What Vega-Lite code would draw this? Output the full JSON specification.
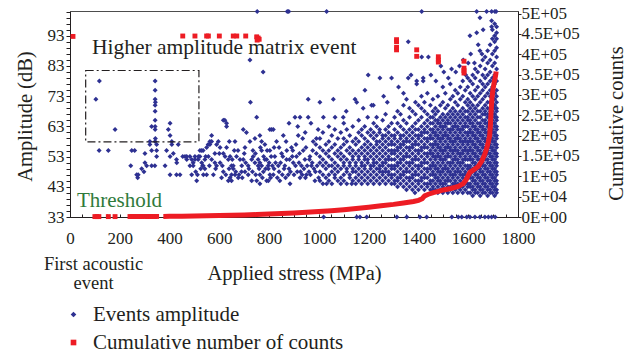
{"$schema":"https://vega.github.io/schema/vega-lite/v6.json","width":448,"height":206,"autosize":"none","padding":{"left":70,"top":11,"right":116,"bottom":138},
"config":{"font":"Liberation Serif","view":{"stroke":"#4d4d4d","strokeWidth":1},"axis":{"grid":false,"labelFont":"Liberation Serif","titleFont":"Liberation Serif","labelFontSize":17,"titleFontSize":20,"titleFontWeight":"normal","labelColor":"#231f20","titleColor":"#231f20","domainColor":"#231f20","tickColor":"#231f20","domainWidth":1,"tickWidth":1},"legend":{"labelFont":"Liberation Serif"}},
"layer":[
{"encoding":{"x":{"field":"s","type":"quantitative","scale":{"domain":[0,1800],"nice":false,"zero":false},"axis":{"orient":"bottom","title":"Applied stress (MPa)","format":"d","values":[0,50,100,150,200,250,300,350,400,450,500,550,600,650,700,750,800,850,900,950,1000,1050,1100,1150,1200,1250,1300,1350,1400,1450,1500,1550,1600,1650,1700,1750,1800],"labelExpr":"datum.value % 200 === 0 ? datum.label : ''","tickSize":-3,"labelPadding":16,"labelFlush":false,"labelOverlap":false,"titleY":56,"titleBaseline":"middle","titleFontSize":20.5}},
"y":{"field":"a","type":"quantitative","scale":{"domain":[33,101.2],"nice":false,"zero":false},"axis":{"title":"Amplitude (dB)","orient":"left","values":[33,35,37,39,41,43,45,47,49,51,53,55,57,59,61,63,65,67,69,71,73,75,77,79,81,83,85,87,89,91,93,95,97,99,101],"labelExpr":"(datum.value - 33) % 10 === 0 ? datum.label : ''","tickSize":4,"labelPadding":2,"labelOverlap":false,"titleX":-45,"titleY":105,"titleBaseline":"middle","titleAngle":-90,"titleFontSize":20.5}}},
"layer":[
{"data":{"name":"amp"},"mark":{"type":"point","filled":true,"opacity":1,"size":25},"encoding":{"color":{"datum":"Events amplitude","type":"nominal","scale":{"domain":["Events amplitude","Cumulative number of counts"],"range":["#2e3192","#ed1c24"]},"legend":{"title":null,"orient":"none","legendX":-7,"legendY":293,"direction":"vertical","labelFontSize":21,"labelColor":"#231f20","symbolSize":32,"labelOffset":9,"rowPadding":6,"padding":0,"labelLimit":500}},"shape":{"datum":"Events amplitude","type":"nominal","scale":{"domain":["Events amplitude","Cumulative number of counts"],"range":["diamond","square"]},"legend":{"title":null,"orient":"none","legendX":-7,"legendY":293,"direction":"vertical","labelFontSize":21,"labelColor":"#231f20","symbolSize":32,"labelOffset":9,"rowPadding":6,"padding":0,"labelLimit":500}}}},
{"data":{"values":[{"s":63,"s2":518,"a":57.9,"a2":81.5}]},"mark":{"type":"rect","filled":false,"color":"#231f20","strokeDash":[8,3,2,3],"strokeWidth":1.2},"encoding":{"x2":{"field":"s2"},"y2":{"field":"a2"}}},
{"data":{"values":[{"s":88,"a":89,"t":"Higher amplitude matrix event"}]},"mark":{"type":"text","align":"left","baseline":"middle","fontSize":21.5,"color":"#231f20","font":"Liberation Serif"},"encoding":{"text":{"field":"t"}}},
{"data":{"values":[{"s":28,"a":38.3,"t":"Threshold"}]},"mark":{"type":"text","align":"left","baseline":"middle","fontSize":21,"color":"#2f7a3b","font":"Liberation Serif"},"encoding":{"text":{"field":"t"}}}
]},
{"encoding":{"x":{"field":"s","type":"quantitative","scale":{"domain":[0,1800],"nice":false,"zero":false},"axis":{"orient":"bottom","title":["First acoustic","event"],"domain":false,"ticks":false,"labels":false,"titleX":23,"titleY":46,"titleAlign":"center","titleAnchor":"middle","titleFontSize":18.5,"titleBaseline":"middle","titleLineHeight":19}},
"y":{"field":"c","type":"quantitative","scale":{"domain":[0,506500],"nice":false,"zero":false},"axis":{"orient":"right","title":"Cumulative counts","values":[0,50000,100000,150000,200000,250000,300000,350000,400000,450000,500000],"labelExpr":"replace(format(datum.value,'.2~e'),'e+','E+0')","tickSize":3,"labelPadding":0,"labelOverlap":false,"titleAngle":-90,"titleX":98,"titleY":112,"titleBaseline":"middle","titleFontSize":20.5}}},
"layer":[
{"data":{"name":"cum"},"transform":[{"filter":"datum.g === 'f'"}],"mark":{"type":"line","color":"#ed1c24","strokeWidth":5},"encoding":{}},
{"data":{"name":"cum"},"transform":[{"filter":"datum.g !== 'f'"}],"mark":{"type":"point","filled":true,"opacity":1,"size":24},"encoding":{"color":{"datum":"Cumulative number of counts","type":"nominal","scale":{"domain":["Events amplitude","Cumulative number of counts"],"range":["#2e3192","#ed1c24"]},"legend":{"title":null,"orient":"none","legendX":-7,"legendY":293,"direction":"vertical","labelFontSize":21,"labelColor":"#231f20","symbolSize":32,"labelOffset":9,"rowPadding":6,"padding":0,"labelLimit":500}},"shape":{"datum":"Cumulative number of counts","type":"nominal","scale":{"domain":["Events amplitude","Cumulative number of counts"],"range":["diamond","square"]},"legend":{"title":null,"orient":"none","legendX":-7,"legendY":293,"direction":"vertical","labelFontSize":21,"labelColor":"#231f20","symbolSize":32,"labelOffset":9,"rowPadding":6,"padding":0,"labelLimit":500}}}}
]}
],
"resolve":{"scale":{"y":"independent"},"axis":{"x":"independent"}},
"datasets":{
"cum":[{"s":100,"c":1000,"g":"l"},{"s":108,"c":1000,"g":"l"},{"s":116,"c":1000,"g":"l"},{"s":154,"c":1000,"g":"l"},{"s":181,"c":1000,"g":"l"},{"s":241,"c":1200,"g":"l"},{"s":249,"c":1200,"g":"l"},{"s":257,"c":1200,"g":"l"},{"s":265,"c":1200,"g":"l"},{"s":273,"c":1300,"g":"l"},{"s":281,"c":1300,"g":"l"},{"s":288,"c":1300,"g":"l"},{"s":301,"c":1300,"g":"l"},{"s":309,"c":1300,"g":"l"},{"s":317,"c":1300,"g":"l"},{"s":325,"c":1400,"g":"l"},{"s":333,"c":1400,"g":"l"},{"s":341,"c":1400,"g":"l"},{"s":348,"c":1400,"g":"l"},
{"s":375,"c":1500,"g":"f"},{"s":400,"c":1600,"g":"f"},{"s":450,"c":2000,"g":"f"},{"s":500,"c":2500,"g":"f"},{"s":550,"c":3000,"g":"f"},{"s":600,"c":3500,"g":"f"},{"s":650,"c":4200,"g":"f"},{"s":700,"c":5000,"g":"f"},{"s":750,"c":6000,"g":"f"},{"s":800,"c":7500,"g":"f"},{"s":850,"c":8500,"g":"f"},{"s":900,"c":10000,"g":"f"},{"s":950,"c":11500,"g":"f"},{"s":1000,"c":13500,"g":"f"},{"s":1050,"c":15500,"g":"f"},{"s":1100,"c":18000,"g":"f"},{"s":1150,"c":21000,"g":"f"},{"s":1200,"c":24000,"g":"f"},{"s":1250,"c":27500,"g":"f"},{"s":1300,"c":31000,"g":"f"},{"s":1340,"c":34500,"g":"f"},{"s":1380,"c":38000,"g":"f"},{"s":1400,"c":41000,"g":"f"},{"s":1415,"c":45000,"g":"f"},{"s":1425,"c":52000,"g":"f"},{"s":1440,"c":56000,"g":"f"},{"s":1460,"c":60000,"g":"f"},{"s":1480,"c":63000,"g":"f"},{"s":1500,"c":66500,"g":"f"},{"s":1530,"c":70000,"g":"f"},{"s":1560,"c":75000,"g":"f"},{"s":1580,"c":82000,"g":"f"},{"s":1592,"c":92000,"g":"f"},{"s":1600,"c":102000,"g":"f"},{"s":1607,"c":110000,"g":"f"},{"s":1620,"c":115000,"g":"f"},{"s":1640,"c":124000,"g":"f"},{"s":1655,"c":138000,"g":"f"},{"s":1667,"c":155000,"g":"f"},{"s":1675,"c":170000,"g":"f"},{"s":1681,"c":185000,"g":"f"},{"s":1686,"c":200000,"g":"f"},{"s":1689,"c":225000,"g":"f"},{"s":1692,"c":260000,"g":"f"},{"s":1695,"c":290000,"g":"f"},{"s":1699,"c":312000,"g":"f"},{"s":1704,"c":330000,"g":"f"},{"s":1708,"c":342000,"g":"f"},{"s":1711,"c":352000,"g":"f"},{"s":1712,"c":358000,"g":"f"},
{"s":12,"c":444000,"g":"o"},{"s":453,"c":445000,"g":"o"},{"s":502,"c":445000,"g":"o"},{"s":549,"c":445000,"g":"o"},{"s":556,"c":445000,"g":"o"},{"s":600,"c":445000,"g":"o"},{"s":656,"c":445000,"g":"o"},{"s":670,"c":445000,"g":"o"},{"s":706,"c":445000,"g":"o"},{"s":750,"c":443000,"g":"o"},{"s":756,"c":440000,"g":"o"},{"s":760,"c":437000,"g":"o"},{"s":752,"c":435000,"g":"o"},{"s":1312,"c":436000,"g":"o"},{"s":1312,"c":431000,"g":"o"},{"s":1312,"c":417000,"g":"o"},{"s":1312,"c":411000,"g":"o"},{"s":1393,"c":411000,"g":"o"},{"s":1393,"c":395000,"g":"o"},{"s":1480,"c":394000,"g":"o"},{"s":1480,"c":386000,"g":"o"},{"s":1480,"c":381000,"g":"o"},{"s":1583,"c":383000,"g":"o"},{"s":1583,"c":366000,"g":"o"},{"s":1583,"c":360000,"g":"o"},{"s":1583,"c":354000,"g":"o"}],
"amp":[
{"s":104,"a":72},{"s":118,"a":78},{"s":117,"a":55},{"s":154,"a":55},{"s":181,"a":62},{"s":244,"a":50},{"s":248,"a":55},{"s":260,"a":55},{"s":268,"a":47},{"s":272,"a":46},{"s":274,"a":47},{"s":288,"a":49},{"s":297,"a":48},{"s":301,"a":51},{"s":301,"a":54},{"s":308,"a":50},{"s":321,"a":58},{"s":321,"a":57},{"s":328,"a":63},{"s":328,"a":55},{"s":328,"a":50},{"s":342,"a":78},{"s":342,"a":75},{"s":342,"a":72},{"s":343,"a":71},{"s":342,"a":70},{"s":342,"a":68},{"s":342,"a":65},{"s":342,"a":63},{"s":342,"a":62},{"s":343,"a":59},{"s":342,"a":58},{"s":348,"a":57},{"s":348,"a":55},{"s":348,"a":53},{"s":341,"a":50},{"s":382,"a":50},{"s":388,"a":55},{"s":395,"a":62},{"s":402,"a":64},{"s":402,"a":60},{"s":402,"a":53},{"s":402,"a":47},{"s":409,"a":58},{"s":409,"a":57},{"s":415,"a":54},{"s":428,"a":47},{"s":428,"a":52},{"s":429,"a":51},{"s":435,"a":57},{"s":442,"a":47},{"s":453,"a":53},
{"s":462,"a":53},{"s":469,"a":52},{"s":469,"a":53},{"s":482,"a":53},{"s":482,"a":50},{"s":489,"a":47},{"s":489,"a":52},{"s":495,"a":50},{"s":495,"a":51},{"s":502,"a":53},{"s":502,"a":52},{"s":505,"a":48},{"s":509,"a":45},{"s":512,"a":47},{"s":515,"a":52},{"s":516,"a":53},{"s":522,"a":53},{"s":522,"a":55},{"s":525,"a":49},{"s":529,"a":55},{"s":529,"a":51},{"s":533,"a":50},{"s":535,"a":55},{"s":535,"a":50},{"s":536,"a":47},{"s":542,"a":52},{"s":542,"a":49},{"s":545,"a":53},{"s":549,"a":56},{"s":549,"a":47},{"s":555,"a":57},{"s":556,"a":53},{"s":560,"a":50},{"s":562,"a":57},{"s":562,"a":58},{"s":569,"a":60},{"s":569,"a":58},{"s":569,"a":52},{"s":576,"a":47},{"s":582,"a":54},{"s":582,"a":51},{"s":585,"a":49},{"s":589,"a":57},{"s":589,"a":50},{"s":596,"a":58},{"s":600,"a":54},{"s":603,"a":56},{"s":603,"a":51},{"s":609,"a":46},{"s":612,"a":50},{"s":616,"a":54},{"s":616,"a":48},{"s":616,"a":65},{"s":622,"a":65},{"s":623,"a":53},{"s":626,"a":47},{"s":629,"a":64},{"s":629,"a":56},{"s":629,"a":63},{"s":636,"a":52},{"s":636,"a":45},{"s":639,"a":49},{"s":640,"a":58},{"s":643,"a":53},{"s":643,"a":46},{"s":649,"a":47},{"s":649,"a":50},{"s":649,"a":45},{"s":652,"a":52},{"s":656,"a":50},{"s":656,"a":49},{"s":660,"a":55},{"s":663,"a":58},{"s":663,"a":47},{"s":666,"a":48},{"s":669,"a":53},{"s":675,"a":55},{"s":676,"a":46},{"s":679,"a":47},{"s":683,"a":52},{"s":689,"a":48},{"s":690,"a":50},{"s":692,"a":46},{"s":696,"a":62},{"s":696,"a":52},{"s":700,"a":54},{"s":703,"a":56},{"s":703,"a":48},{"s":706,"a":51},{"s":709,"a":61},{"s":716,"a":50},{"s":716,"a":47},{"s":719,"a":49},{"s":723,"a":85},{"s":723,"a":58},{"s":725,"a":71},{"s":730,"a":45},{"s":730,"a":52},{"s":733,"a":48},{"s":735,"a":55},{"s":736,"a":53},{"s":743,"a":59},{"s":743,"a":51},{"s":745,"a":54},{"s":746,"a":47},{"s":750,"a":66},{"s":750,"a":45},{"s":752,"a":101},{"s":756,"a":50},{"s":756,"a":52},{"s":760,"a":49},{"s":763,"a":47},{"s":763,"a":51},{"s":763,"a":60},{"s":763,"a":44},{"s":765,"a":56},{"s":770,"a":55},{"s":770,"a":50},{"s":770,"a":58},{"s":773,"a":46},{"s":776,"a":81},{"s":777,"a":48},{"s":778,"a":53},{"s":783,"a":52},{"s":783,"a":57},{"s":786,"a":49},{"s":790,"a":45},{"s":790,"a":52},{"s":792,"a":55},{"s":796,"a":50},{"s":797,"a":49},{"s":797,"a":45},{"s":800,"a":51},{"s":803,"a":55},{"s":803,"a":47},{"s":803,"a":62},{"s":806,"a":46},{"s":808,"a":53},{"s":810,"a":62},{"s":813,"a":50},{"s":817,"a":47},{"s":817,"a":62},{"s":820,"a":49},{"s":820,"a":56},{"s":823,"a":53},{"s":826,"a":51},{"s":830,"a":58},{"s":833,"a":46},{"s":837,"a":50},{"s":840,"a":48},{"s":840,"a":56},{"s":843,"a":45},{"s":846,"a":51},{"s":850,"a":54},{"s":853,"a":47},{"s":855,"a":53},{"s":857,"a":60},{"s":860,"a":49},{"s":863,"a":50},{"s":866,"a":46},{"s":868,"a":58},{"s":870,"a":52},{"s":871,"a":55},{"s":873,"a":101},{"s":877,"a":47},{"s":879,"a":101},{"s":880,"a":49},{"s":880,"a":64},{"s":882,"a":52},{"s":884,"a":44},{"s":886,"a":48},{"s":890,"a":56},{"s":893,"a":53},{"s":895,"a":55},{"s":897,"a":51},{"s":900,"a":47},{"s":904,"a":66},{"s":906,"a":50},{"s":908,"a":57},{"s":910,"a":53},{"s":913,"a":48},{"s":915,"a":63},{"s":917,"a":60},{"s":920,"a":51},{"s":922,"a":54},{"s":924,"a":46},{"s":924,"a":66},{"s":926,"a":48},{"s":930,"a":50},{"s":933,"a":47},{"s":935,"a":59},{"s":937,"a":55},{"s":940,"a":49},{"s":944,"a":52},{"s":945,"a":61},{"s":946,"a":46},{"s":948,"a":56},{"s":950,"a":47},{"s":953,"a":50},{"s":957,"a":66},{"s":957,"a":72},{"s":960,"a":48},{"s":962,"a":52},{"s":964,"a":53},{"s":966,"a":47},{"s":968,"a":64},{"s":970,"a":50},{"s":973,"a":51},{"s":975,"a":55},{"s":977,"a":58},{"s":980,"a":49},{"s":984,"a":45},{"s":986,"a":48},{"s":988,"a":57},{"s":990,"a":54},{"s":990,"a":59},{"s":993,"a":50},{"s":997,"a":62},{"s":999,"a":46},
{"s":1004,"a":45},{"s":1004,"a":48},{"s":1004,"a":51},{"s":1004,"a":53},{"s":1004,"a":56},{"s":1004,"a":59},{"s":1016,"a":44},{"s":1016,"a":47},{"s":1016,"a":50},{"s":1016,"a":52},{"s":1016,"a":55},{"s":1016,"a":61},{"s":1028,"a":46},{"s":1028,"a":49},{"s":1028,"a":51},{"s":1028,"a":54},{"s":1028,"a":57},{"s":1040,"a":45},{"s":1040,"a":47},{"s":1040,"a":50},{"s":1040,"a":53},{"s":1040,"a":55},{"s":1040,"a":58},{"s":1040,"a":63},{"s":1052,"a":44},{"s":1052,"a":48},{"s":1052,"a":50},{"s":1052,"a":52},{"s":1052,"a":56},{"s":1052,"a":60},{"s":1064,"a":46},{"s":1064,"a":47},{"s":1064,"a":49},{"s":1064,"a":51},{"s":1064,"a":54},{"s":1064,"a":57},{"s":1064,"a":62},{"s":1076,"a":45},{"s":1076,"a":48},{"s":1076,"a":50},{"s":1076,"a":53},{"s":1076,"a":55},{"s":1076,"a":59},{"s":1088,"a":44},{"s":1088,"a":46},{"s":1088,"a":49},{"s":1088,"a":52},{"s":1088,"a":54},{"s":1088,"a":56},{"s":1088,"a":61},{"s":1100,"a":45},{"s":1100,"a":47},{"s":1100,"a":50},{"s":1100,"a":51},{"s":1100,"a":53},{"s":1100,"a":57},{"s":1100,"a":59},{"s":1100,"a":64},{"s":1112,"a":44},{"s":1112,"a":48},{"s":1112,"a":49},{"s":1112,"a":52},{"s":1112,"a":55},{"s":1112,"a":58},{"s":1112,"a":62},{"s":1124,"a":46},{"s":1124,"a":47},{"s":1124,"a":50},{"s":1124,"a":51},{"s":1124,"a":54},{"s":1124,"a":56},{"s":1124,"a":60},{"s":1136,"a":45},{"s":1136,"a":48},{"s":1136,"a":49},{"s":1136,"a":52},{"s":1136,"a":53},{"s":1136,"a":55},{"s":1136,"a":58},{"s":1136,"a":63},{"s":1148,"a":44},{"s":1148,"a":46},{"s":1148,"a":48},{"s":1148,"a":50},{"s":1148,"a":51},{"s":1148,"a":54},{"s":1148,"a":57},{"s":1148,"a":59},{"s":1160,"a":45},{"s":1160,"a":47},{"s":1160,"a":49},{"s":1160,"a":52},{"s":1160,"a":53},{"s":1160,"a":55},{"s":1160,"a":58},{"s":1160,"a":61},{"s":1160,"a":65},{"s":1172,"a":44},{"s":1172,"a":46},{"s":1172,"a":48},{"s":1172,"a":50},{"s":1172,"a":51},{"s":1172,"a":54},{"s":1172,"a":56},{"s":1172,"a":60},{"s":1172,"a":62},{"s":1184,"a":45},{"s":1184,"a":47},{"s":1184,"a":49},{"s":1184,"a":50},{"s":1184,"a":52},{"s":1184,"a":53},{"s":1184,"a":55},{"s":1184,"a":57},{"s":1184,"a":59},{"s":1184,"a":63},{"s":1196,"a":44},{"s":1196,"a":46},{"s":1196,"a":48},{"s":1196,"a":51},{"s":1196,"a":52},{"s":1196,"a":54},{"s":1196,"a":56},{"s":1196,"a":58},{"s":1196,"a":61},{"s":1196,"a":66},{"s":1208,"a":45},{"s":1208,"a":47},{"s":1208,"a":49},{"s":1208,"a":50},{"s":1208,"a":53},{"s":1208,"a":55},{"s":1208,"a":57},{"s":1208,"a":60},{"s":1208,"a":62},{"s":1220,"a":44},{"s":1220,"a":46},{"s":1220,"a":48},{"s":1220,"a":50},{"s":1220,"a":51},{"s":1220,"a":52},{"s":1220,"a":54},{"s":1220,"a":56},{"s":1220,"a":59},{"s":1220,"a":61},{"s":1220,"a":64},{"s":1232,"a":45},{"s":1232,"a":47},{"s":1232,"a":49},{"s":1232,"a":51},{"s":1232,"a":53},{"s":1232,"a":55},{"s":1232,"a":57},{"s":1232,"a":58},{"s":1232,"a":60},{"s":1232,"a":63},{"s":1244,"a":44},{"s":1244,"a":46},{"s":1244,"a":48},{"s":1244,"a":49},{"s":1244,"a":50},{"s":1244,"a":52},{"s":1244,"a":54},{"s":1244,"a":56},{"s":1244,"a":58},{"s":1244,"a":61},{"s":1244,"a":62},{"s":1256,"a":45},{"s":1256,"a":47},{"s":1256,"a":48},{"s":1256,"a":50},{"s":1256,"a":51},{"s":1256,"a":53},{"s":1256,"a":55},{"s":1256,"a":57},{"s":1256,"a":59},{"s":1256,"a":60},{"s":1256,"a":65},{"s":1268,"a":44},{"s":1268,"a":46},{"s":1268,"a":48},{"s":1268,"a":49},{"s":1268,"a":51},{"s":1268,"a":52},{"s":1268,"a":54},{"s":1268,"a":56},{"s":1268,"a":58},{"s":1268,"a":60},{"s":1268,"a":62},{"s":1268,"a":67},{"s":1280,"a":45},{"s":1280,"a":47},{"s":1280,"a":48},{"s":1280,"a":50},{"s":1280,"a":52},{"s":1280,"a":53},{"s":1280,"a":55},{"s":1280,"a":57},{"s":1280,"a":59},{"s":1280,"a":61},{"s":1280,"a":63},{"s":1292,"a":44},{"s":1292,"a":46},{"s":1292,"a":47},{"s":1292,"a":49},{"s":1292,"a":50},{"s":1292,"a":52},{"s":1292,"a":54},{"s":1292,"a":55},{"s":1292,"a":57},{"s":1292,"a":58},{"s":1292,"a":60},{"s":1292,"a":64},
{"s":1304,"a":44},{"s":1304,"a":45},{"s":1304,"a":47},{"s":1304,"a":49},{"s":1304,"a":50},{"s":1304,"a":52},{"s":1304,"a":54},{"s":1304,"a":55},{"s":1304,"a":57},{"s":1304,"a":59},{"s":1304,"a":60},{"s":1304,"a":62},{"s":1304,"a":66},{"s":1316,"a":43},{"s":1316,"a":45},{"s":1316,"a":46},{"s":1316,"a":48},{"s":1316,"a":50},{"s":1316,"a":51},{"s":1316,"a":53},{"s":1316,"a":55},{"s":1316,"a":56},{"s":1316,"a":58},{"s":1316,"a":61},{"s":1316,"a":64},{"s":1316,"a":68},{"s":1328,"a":44},{"s":1328,"a":46},{"s":1328,"a":47},{"s":1328,"a":49},{"s":1328,"a":51},{"s":1328,"a":52},{"s":1328,"a":54},{"s":1328,"a":56},{"s":1328,"a":57},{"s":1328,"a":59},{"s":1328,"a":60},{"s":1328,"a":63},{"s":1328,"a":67},{"s":1340,"a":43},{"s":1340,"a":45},{"s":1340,"a":47},{"s":1340,"a":48},{"s":1340,"a":50},{"s":1340,"a":52},{"s":1340,"a":53},{"s":1340,"a":55},{"s":1340,"a":57},{"s":1340,"a":58},{"s":1340,"a":60},{"s":1340,"a":62},{"s":1340,"a":65},{"s":1340,"a":70},{"s":1352,"a":42},{"s":1352,"a":44},{"s":1352,"a":46},{"s":1352,"a":48},{"s":1352,"a":49},{"s":1352,"a":51},{"s":1352,"a":53},{"s":1352,"a":54},{"s":1352,"a":56},{"s":1352,"a":58},{"s":1352,"a":59},{"s":1352,"a":61},{"s":1352,"a":64},{"s":1352,"a":72},{"s":1364,"a":43},{"s":1364,"a":45},{"s":1364,"a":46},{"s":1364,"a":48},{"s":1364,"a":50},{"s":1364,"a":51},{"s":1364,"a":53},{"s":1364,"a":55},{"s":1364,"a":56},{"s":1364,"a":58},{"s":1364,"a":60},{"s":1364,"a":62},{"s":1364,"a":66},{"s":1364,"a":69},{"s":1376,"a":42},{"s":1376,"a":44},{"s":1376,"a":46},{"s":1376,"a":47},{"s":1376,"a":49},{"s":1376,"a":51},{"s":1376,"a":52},{"s":1376,"a":54},{"s":1376,"a":56},{"s":1376,"a":57},{"s":1376,"a":59},{"s":1376,"a":61},{"s":1376,"a":63},{"s":1376,"a":68},{"s":1388,"a":43},{"s":1388,"a":45},{"s":1388,"a":47},{"s":1388,"a":48},{"s":1388,"a":50},{"s":1388,"a":52},{"s":1388,"a":53},{"s":1388,"a":55},{"s":1388,"a":57},{"s":1388,"a":58},{"s":1388,"a":60},{"s":1388,"a":62},{"s":1388,"a":64},{"s":1388,"a":67},{"s":1388,"a":71},{"s":1400,"a":42},{"s":1400,"a":44},{"s":1400,"a":45},{"s":1400,"a":47},{"s":1400,"a":49},{"s":1400,"a":50},{"s":1400,"a":52},{"s":1400,"a":54},{"s":1400,"a":55},{"s":1400,"a":57},{"s":1400,"a":59},{"s":1400,"a":60},{"s":1400,"a":62},{"s":1400,"a":65},{"s":1400,"a":70},{"s":1412,"a":43},{"s":1412,"a":45},{"s":1412,"a":46},{"s":1412,"a":48},{"s":1412,"a":50},{"s":1412,"a":51},{"s":1412,"a":53},{"s":1412,"a":55},{"s":1412,"a":56},{"s":1412,"a":58},{"s":1412,"a":60},{"s":1412,"a":61},{"s":1412,"a":63},{"s":1412,"a":66},{"s":1412,"a":69},{"s":1412,"a":73},{"s":1424,"a":42},{"s":1424,"a":44},{"s":1424,"a":46},{"s":1424,"a":47},{"s":1424,"a":49},{"s":1424,"a":51},{"s":1424,"a":52},{"s":1424,"a":54},{"s":1424,"a":56},{"s":1424,"a":57},{"s":1424,"a":59},{"s":1424,"a":61},{"s":1424,"a":62},{"s":1424,"a":64},{"s":1424,"a":68},{"s":1424,"a":71},{"s":1436,"a":43},{"s":1436,"a":44},{"s":1436,"a":46},{"s":1436,"a":48},{"s":1436,"a":49},{"s":1436,"a":51},{"s":1436,"a":53},{"s":1436,"a":54},{"s":1436,"a":56},{"s":1436,"a":58},{"s":1436,"a":59},{"s":1436,"a":61},{"s":1436,"a":63},{"s":1436,"a":65},{"s":1436,"a":67},{"s":1436,"a":74},{"s":1448,"a":42},{"s":1448,"a":44},{"s":1448,"a":45},{"s":1448,"a":47},{"s":1448,"a":49},{"s":1448,"a":50},{"s":1448,"a":52},{"s":1448,"a":54},{"s":1448,"a":55},{"s":1448,"a":57},{"s":1448,"a":59},{"s":1448,"a":60},{"s":1448,"a":62},{"s":1448,"a":64},{"s":1448,"a":66},{"s":1448,"a":70},
{"s":1458,"a":42},{"s":1458,"a":43},{"s":1458,"a":45},{"s":1458,"a":47},{"s":1458,"a":48},{"s":1458,"a":50},{"s":1458,"a":51},{"s":1458,"a":53},{"s":1458,"a":54},{"s":1458,"a":56},{"s":1458,"a":57},{"s":1458,"a":59},{"s":1458,"a":61},{"s":1458,"a":62},{"s":1458,"a":64},{"s":1458,"a":66},{"s":1458,"a":68},{"s":1458,"a":72},{"s":1468,"a":42},{"s":1468,"a":44},{"s":1468,"a":46},{"s":1468,"a":47},{"s":1468,"a":49},{"s":1468,"a":50},{"s":1468,"a":52},{"s":1468,"a":53},{"s":1468,"a":55},{"s":1468,"a":57},{"s":1468,"a":58},{"s":1468,"a":60},{"s":1468,"a":61},{"s":1468,"a":63},{"s":1468,"a":65},{"s":1468,"a":67},{"s":1468,"a":69},{"s":1478,"a":41},{"s":1478,"a":43},{"s":1478,"a":45},{"s":1478,"a":46},{"s":1478,"a":48},{"s":1478,"a":49},{"s":1478,"a":51},{"s":1478,"a":53},{"s":1478,"a":54},{"s":1478,"a":56},{"s":1478,"a":57},{"s":1478,"a":59},{"s":1478,"a":60},{"s":1478,"a":62},{"s":1478,"a":64},{"s":1478,"a":65},{"s":1478,"a":68},{"s":1478,"a":73},{"s":1488,"a":42},{"s":1488,"a":44},{"s":1488,"a":45},{"s":1488,"a":47},{"s":1488,"a":48},{"s":1488,"a":50},{"s":1488,"a":52},{"s":1488,"a":53},{"s":1488,"a":55},{"s":1488,"a":56},{"s":1488,"a":58},{"s":1488,"a":59},{"s":1488,"a":61},{"s":1488,"a":63},{"s":1488,"a":64},{"s":1488,"a":66},{"s":1488,"a":70},{"s":1498,"a":41},{"s":1498,"a":43},{"s":1498,"a":44},{"s":1498,"a":46},{"s":1498,"a":48},{"s":1498,"a":49},{"s":1498,"a":51},{"s":1498,"a":52},{"s":1498,"a":54},{"s":1498,"a":55},{"s":1498,"a":57},{"s":1498,"a":59},{"s":1498,"a":60},{"s":1498,"a":62},{"s":1498,"a":63},{"s":1498,"a":65},{"s":1498,"a":67},{"s":1498,"a":71},{"s":1498,"a":76},{"s":1508,"a":42},{"s":1508,"a":44},{"s":1508,"a":45},{"s":1508,"a":47},{"s":1508,"a":49},{"s":1508,"a":50},{"s":1508,"a":52},{"s":1508,"a":53},{"s":1508,"a":55},{"s":1508,"a":56},{"s":1508,"a":58},{"s":1508,"a":60},{"s":1508,"a":61},{"s":1508,"a":63},{"s":1508,"a":64},{"s":1508,"a":66},{"s":1508,"a":69},{"s":1508,"a":74},{"s":1518,"a":41},{"s":1518,"a":43},{"s":1518,"a":45},{"s":1518,"a":46},{"s":1518,"a":48},{"s":1518,"a":49},{"s":1518,"a":51},{"s":1518,"a":53},{"s":1518,"a":54},{"s":1518,"a":56},{"s":1518,"a":57},{"s":1518,"a":59},{"s":1518,"a":60},{"s":1518,"a":62},{"s":1518,"a":64},{"s":1518,"a":65},{"s":1518,"a":67},{"s":1518,"a":70},{"s":1528,"a":42},{"s":1528,"a":43},{"s":1528,"a":45},{"s":1528,"a":47},{"s":1528,"a":48},{"s":1528,"a":50},{"s":1528,"a":51},{"s":1528,"a":53},{"s":1528,"a":55},{"s":1528,"a":56},{"s":1528,"a":58},{"s":1528,"a":59},{"s":1528,"a":61},{"s":1528,"a":62},{"s":1528,"a":64},{"s":1528,"a":66},{"s":1528,"a":68},{"s":1528,"a":72},{"s":1528,"a":77},{"s":1538,"a":41},{"s":1538,"a":43},{"s":1538,"a":44},{"s":1538,"a":46},{"s":1538,"a":47},{"s":1538,"a":49},{"s":1538,"a":51},{"s":1538,"a":52},{"s":1538,"a":54},{"s":1538,"a":55},{"s":1538,"a":57},{"s":1538,"a":58},{"s":1538,"a":60},{"s":1538,"a":62},{"s":1538,"a":63},{"s":1538,"a":65},{"s":1538,"a":67},{"s":1538,"a":69},{"s":1538,"a":73},{"s":1548,"a":42},{"s":1548,"a":44},{"s":1548,"a":45},{"s":1548,"a":47},{"s":1548,"a":48},{"s":1548,"a":50},{"s":1548,"a":52},{"s":1548,"a":53},{"s":1548,"a":55},{"s":1548,"a":56},{"s":1548,"a":58},{"s":1548,"a":59},{"s":1548,"a":61},{"s":1548,"a":63},{"s":1548,"a":64},{"s":1548,"a":66},{"s":1548,"a":68},{"s":1548,"a":71},{"s":1548,"a":75},{"s":1558,"a":41},{"s":1558,"a":43},{"s":1558,"a":44},{"s":1558,"a":46},{"s":1558,"a":48},{"s":1558,"a":49},{"s":1558,"a":51},{"s":1558,"a":52},{"s":1558,"a":54},{"s":1558,"a":55},{"s":1558,"a":57},{"s":1558,"a":59},{"s":1558,"a":60},{"s":1558,"a":62},{"s":1558,"a":63},{"s":1558,"a":65},{"s":1558,"a":67},{"s":1558,"a":70},{"s":1558,"a":74},{"s":1568,"a":42},{"s":1568,"a":43},{"s":1568,"a":45},{"s":1568,"a":47},{"s":1568,"a":48},{"s":1568,"a":50},{"s":1568,"a":51},{"s":1568,"a":53},{"s":1568,"a":54},{"s":1568,"a":56},{"s":1568,"a":58},{"s":1568,"a":59},{"s":1568,"a":61},{"s":1568,"a":62},{"s":1568,"a":64},{"s":1568,"a":66},{"s":1568,"a":68},{"s":1568,"a":72},{"s":1568,"a":76},{"s":1578,"a":41},{"s":1578,"a":43},{"s":1578,"a":44},{"s":1578,"a":46},{"s":1578,"a":47},{"s":1578,"a":49},{"s":1578,"a":51},{"s":1578,"a":52},{"s":1578,"a":54},{"s":1578,"a":55},{"s":1578,"a":57},{"s":1578,"a":58},{"s":1578,"a":60},{"s":1578,"a":62},{"s":1578,"a":63},{"s":1578,"a":65},{"s":1578,"a":67},{"s":1578,"a":69},{"s":1578,"a":73},{"s":1578,"a":78},{"s":1588,"a":42},{"s":1588,"a":44},{"s":1588,"a":45},{"s":1588,"a":47},{"s":1588,"a":48},{"s":1588,"a":50},{"s":1588,"a":52},{"s":1588,"a":53},{"s":1588,"a":55},{"s":1588,"a":56},{"s":1588,"a":58},{"s":1588,"a":59},{"s":1588,"a":61},{"s":1588,"a":63},{"s":1588,"a":64},{"s":1588,"a":66},{"s":1588,"a":68},{"s":1588,"a":71},{"s":1588,"a":75},{"s":1598,"a":41},{"s":1598,"a":43},{"s":1598,"a":44},{"s":1598,"a":46},{"s":1598,"a":47},{"s":1598,"a":49},{"s":1598,"a":50},{"s":1598,"a":52},{"s":1598,"a":54},{"s":1598,"a":55},{"s":1598,"a":57},{"s":1598,"a":58},{"s":1598,"a":60},{"s":1598,"a":61},{"s":1598,"a":63},{"s":1598,"a":65},{"s":1598,"a":66},{"s":1598,"a":68},{"s":1598,"a":70},{"s":1598,"a":72},{"s":1598,"a":76},{"s":1598,"a":79},
{"s":1608,"a":41},{"s":1608,"a":43},{"s":1608,"a":44},{"s":1608,"a":46},{"s":1608,"a":47},{"s":1608,"a":49},{"s":1608,"a":50},{"s":1608,"a":52},{"s":1608,"a":53},{"s":1608,"a":55},{"s":1608,"a":56},{"s":1608,"a":58},{"s":1608,"a":59},{"s":1608,"a":61},{"s":1608,"a":62},{"s":1608,"a":64},{"s":1608,"a":65},{"s":1608,"a":67},{"s":1608,"a":69},{"s":1608,"a":71},{"s":1608,"a":74},{"s":1608,"a":78},{"s":1618,"a":40},{"s":1618,"a":42},{"s":1618,"a":43},{"s":1618,"a":45},{"s":1618,"a":46},{"s":1618,"a":48},{"s":1618,"a":49},{"s":1618,"a":51},{"s":1618,"a":52},{"s":1618,"a":54},{"s":1618,"a":55},{"s":1618,"a":57},{"s":1618,"a":58},{"s":1618,"a":60},{"s":1618,"a":61},{"s":1618,"a":63},{"s":1618,"a":64},{"s":1618,"a":66},{"s":1618,"a":68},{"s":1618,"a":70},{"s":1618,"a":73},{"s":1618,"a":77},{"s":1618,"a":80},{"s":1628,"a":41},{"s":1628,"a":42},{"s":1628,"a":44},{"s":1628,"a":45},{"s":1628,"a":47},{"s":1628,"a":48},{"s":1628,"a":50},{"s":1628,"a":51},{"s":1628,"a":53},{"s":1628,"a":54},{"s":1628,"a":56},{"s":1628,"a":57},{"s":1628,"a":59},{"s":1628,"a":60},{"s":1628,"a":62},{"s":1628,"a":63},{"s":1628,"a":65},{"s":1628,"a":67},{"s":1628,"a":69},{"s":1628,"a":72},{"s":1628,"a":75},{"s":1628,"a":79},{"s":1628,"a":82},{"s":1638,"a":41},{"s":1638,"a":43},{"s":1638,"a":44},{"s":1638,"a":46},{"s":1638,"a":47},{"s":1638,"a":49},{"s":1638,"a":50},{"s":1638,"a":52},{"s":1638,"a":53},{"s":1638,"a":55},{"s":1638,"a":56},{"s":1638,"a":58},{"s":1638,"a":59},{"s":1638,"a":61},{"s":1638,"a":62},{"s":1638,"a":64},{"s":1638,"a":66},{"s":1638,"a":68},{"s":1638,"a":70},{"s":1638,"a":73},{"s":1638,"a":76},{"s":1638,"a":81},{"s":1648,"a":40},{"s":1648,"a":42},{"s":1648,"a":43},{"s":1648,"a":45},{"s":1648,"a":46},{"s":1648,"a":48},{"s":1648,"a":49},{"s":1648,"a":51},{"s":1648,"a":52},{"s":1648,"a":54},{"s":1648,"a":55},{"s":1648,"a":57},{"s":1648,"a":58},{"s":1648,"a":60},{"s":1648,"a":61},{"s":1648,"a":63},{"s":1648,"a":64},{"s":1648,"a":66},{"s":1648,"a":68},{"s":1648,"a":71},{"s":1648,"a":74},{"s":1648,"a":78},{"s":1648,"a":83},{"s":1658,"a":41},{"s":1658,"a":42},{"s":1658,"a":44},{"s":1658,"a":45},{"s":1658,"a":47},{"s":1658,"a":48},{"s":1658,"a":50},{"s":1658,"a":51},{"s":1658,"a":53},{"s":1658,"a":54},{"s":1658,"a":56},{"s":1658,"a":57},{"s":1658,"a":59},{"s":1658,"a":60},{"s":1658,"a":62},{"s":1658,"a":63},{"s":1658,"a":65},{"s":1658,"a":67},{"s":1658,"a":69},{"s":1658,"a":72},{"s":1658,"a":75},{"s":1658,"a":77},{"s":1658,"a":80},{"s":1658,"a":85},{"s":1668,"a":41},{"s":1668,"a":43},{"s":1668,"a":44},{"s":1668,"a":46},{"s":1668,"a":47},{"s":1668,"a":49},{"s":1668,"a":50},{"s":1668,"a":52},{"s":1668,"a":53},{"s":1668,"a":55},{"s":1668,"a":56},{"s":1668,"a":58},{"s":1668,"a":59},{"s":1668,"a":61},{"s":1668,"a":62},{"s":1668,"a":64},{"s":1668,"a":65},{"s":1668,"a":67},{"s":1668,"a":68},{"s":1668,"a":70},{"s":1668,"a":73},{"s":1668,"a":76},{"s":1668,"a":79},{"s":1668,"a":82},{"s":1668,"a":86},{"s":1678,"a":40},{"s":1678,"a":42},{"s":1678,"a":43},{"s":1678,"a":45},{"s":1678,"a":46},{"s":1678,"a":48},{"s":1678,"a":49},{"s":1678,"a":51},{"s":1678,"a":52},{"s":1678,"a":54},{"s":1678,"a":55},{"s":1678,"a":57},{"s":1678,"a":58},{"s":1678,"a":60},{"s":1678,"a":61},{"s":1678,"a":63},{"s":1678,"a":64},{"s":1678,"a":66},{"s":1678,"a":67},{"s":1678,"a":69},{"s":1678,"a":71},{"s":1678,"a":74},{"s":1678,"a":77},{"s":1678,"a":80},{"s":1678,"a":84},{"s":1678,"a":88},{"s":1688,"a":41},{"s":1688,"a":42},{"s":1688,"a":44},{"s":1688,"a":45},{"s":1688,"a":47},{"s":1688,"a":48},{"s":1688,"a":50},{"s":1688,"a":51},{"s":1688,"a":53},{"s":1688,"a":54},{"s":1688,"a":56},{"s":1688,"a":57},{"s":1688,"a":59},{"s":1688,"a":60},{"s":1688,"a":62},{"s":1688,"a":63},{"s":1688,"a":65},{"s":1688,"a":66},{"s":1688,"a":68},{"s":1688,"a":69},{"s":1688,"a":71},{"s":1688,"a":73},{"s":1688,"a":75},{"s":1688,"a":78},{"s":1688,"a":81},{"s":1688,"a":85},{"s":1688,"a":90},{"s":1697,"a":41},{"s":1697,"a":43},{"s":1697,"a":44},{"s":1697,"a":46},{"s":1697,"a":47},{"s":1697,"a":49},{"s":1697,"a":50},{"s":1697,"a":52},{"s":1697,"a":53},{"s":1697,"a":55},{"s":1697,"a":56},{"s":1697,"a":58},{"s":1697,"a":59},{"s":1697,"a":61},{"s":1697,"a":62},{"s":1697,"a":64},{"s":1697,"a":65},{"s":1697,"a":67},{"s":1697,"a":68},{"s":1697,"a":70},{"s":1697,"a":72},{"s":1697,"a":74},{"s":1697,"a":76},{"s":1697,"a":79},{"s":1697,"a":83},{"s":1697,"a":87},{"s":1697,"a":92},{"s":1697,"a":95},{"s":1706,"a":40},{"s":1706,"a":42},{"s":1706,"a":43},{"s":1706,"a":45},{"s":1706,"a":46},{"s":1706,"a":48},{"s":1706,"a":49},{"s":1706,"a":51},{"s":1706,"a":52},{"s":1706,"a":54},{"s":1706,"a":55},{"s":1706,"a":57},{"s":1706,"a":58},{"s":1706,"a":60},{"s":1706,"a":61},{"s":1706,"a":63},{"s":1706,"a":64},{"s":1706,"a":66},{"s":1706,"a":67},{"s":1706,"a":69},{"s":1706,"a":70},{"s":1706,"a":72},{"s":1706,"a":74},{"s":1706,"a":77},{"s":1706,"a":80},{"s":1706,"a":84},{"s":1706,"a":88},{"s":1706,"a":91},{"s":1706,"a":93},{"s":1706,"a":97},{"s":1714,"a":41},{"s":1714,"a":42},{"s":1714,"a":44},{"s":1714,"a":45},{"s":1714,"a":47},{"s":1714,"a":48},{"s":1714,"a":50},{"s":1714,"a":51},{"s":1714,"a":53},{"s":1714,"a":54},{"s":1714,"a":56},{"s":1714,"a":57},{"s":1714,"a":59},{"s":1714,"a":60},{"s":1714,"a":62},{"s":1714,"a":63},{"s":1714,"a":65},{"s":1714,"a":66},{"s":1714,"a":68},{"s":1714,"a":69},{"s":1714,"a":71},{"s":1714,"a":73},{"s":1714,"a":75},{"s":1714,"a":78},{"s":1714,"a":82},{"s":1714,"a":86},{"s":1714,"a":89},{"s":1714,"a":92},{"s":1714,"a":94},{"s":1714,"a":96},
{"s":1004,"a":71},{"s":1018,"a":66},{"s":1031,"a":44},{"s":1031,"a":101},{"s":1058,"a":72},{"s":1065,"a":66},{"s":1098,"a":66},{"s":1110,"a":68},{"s":1132,"a":44},{"s":1145,"a":72},{"s":1152,"a":71},{"s":1178,"a":69},{"s":1185,"a":75},{"s":1198,"a":80},{"s":1212,"a":70},{"s":1219,"a":70},{"s":1232,"a":66},{"s":1245,"a":79},{"s":1260,"a":73},{"s":1275,"a":71},{"s":1292,"a":79},
{"s":1320,"a":76},{"s":1340,"a":74},{"s":1359,"a":91},{"s":1359,"a":79},{"s":1370,"a":80},{"s":1386,"a":41},{"s":1393,"a":78},{"s":1393,"a":77},{"s":1413,"a":101},{"s":1413,"a":86},{"s":1419,"a":79},{"s":1419,"a":78},{"s":1440,"a":86},{"s":1450,"a":80},{"s":1470,"a":78},{"s":1490,"a":83},{"s":1502,"a":81},{"s":1520,"a":79},{"s":1533,"a":82},{"s":1550,"a":81},{"s":1565,"a":83},{"s":1580,"a":85},{"s":1590,"a":80},{"s":1600,"a":84},{"s":1607,"a":93},{"s":1610,"a":87},{"s":1625,"a":84},{"s":1634,"a":94},{"s":1634,"a":101},{"s":1640,"a":90},{"s":1647,"a":99},{"s":1647,"a":88},{"s":1655,"a":87},{"s":1660,"a":95},{"s":1674,"a":101},{"s":1694,"a":98},{"s":1694,"a":96},{"s":1694,"a":101},{"s":1707,"a":101},{"s":1712,"a":101},
{"s":1019,"a":33},{"s":1152,"a":33},{"s":1165,"a":33},{"s":1192,"a":33},{"s":1313,"a":33},{"s":1353,"a":33},{"s":1406,"a":33},{"s":1433,"a":33},{"s":1534,"a":33},{"s":1560,"a":33},{"s":1574,"a":33},{"s":1594,"a":33},{"s":1607,"a":33},{"s":1627,"a":33},{"s":1647,"a":33},{"s":1667,"a":33},{"s":1681,"a":33},{"s":1694,"a":33},{"s":1708,"a":33}
]}}
